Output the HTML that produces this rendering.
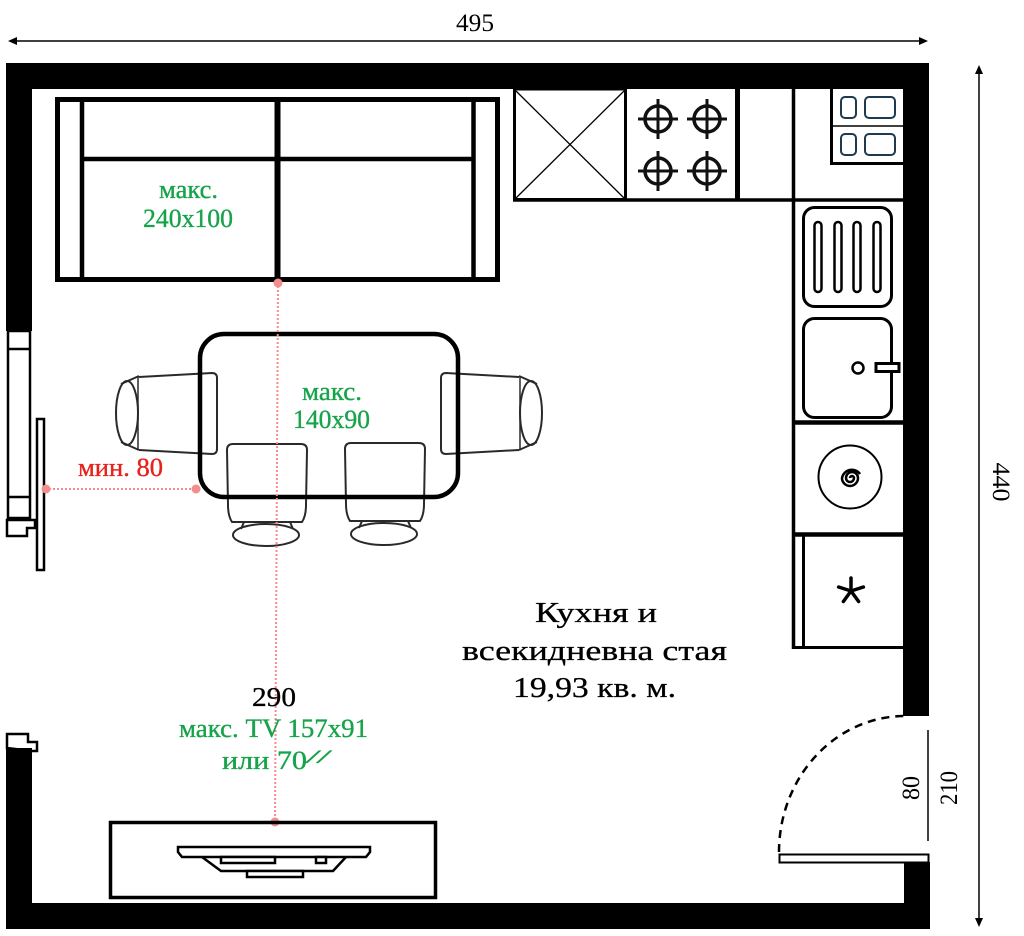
<!DOCTYPE html>
<html><head><meta charset="utf-8"><style>html,body{margin:0;padding:0;background:#fff}svg{display:block}</style></head>
<body>
<svg width="1024" height="936" viewBox="0 0 1024 936" xmlns="http://www.w3.org/2000/svg" font-family="'Liberation Serif', serif">
<rect width="1024" height="936" fill="#fff"/>

<!-- top dimension -->
<line x1="14" y1="41" x2="921" y2="41" stroke="#000" stroke-width="1.5"/>
<polygon points="8,41 17,37 17,45" fill="#000"/>
<polygon points="928,41 919,37 919,45" fill="#000"/>
<text x="456" y="31" font-size="25" textLength="38" lengthAdjust="spacingAndGlyphs" fill="#000">495</text>

<!-- right dimension -->
<line x1="979" y1="72" x2="979" y2="920" stroke="#000" stroke-width="1.5"/>
<polygon points="979,65 975,74 983,74" fill="#000"/>
<polygon points="979,927 975,918 983,918" fill="#000"/>
<text transform="translate(993,482) rotate(90)" text-anchor="middle" font-size="25" textLength="39" lengthAdjust="spacingAndGlyphs" fill="#000">440</text>

<!-- lower-left wall piece -->
<polygon points="7,748 7,734 28,734 28,742 37,742 37,751 32,751" fill="#fff" stroke="#000" stroke-width="2.5"/>

<!-- walls -->
<g fill="#000">
<rect x="6" y="63" width="923" height="26"/>
<rect x="6" y="63" width="26" height="268"/>
<rect x="6" y="748" width="26" height="181"/>
<rect x="6" y="903" width="923" height="26"/>
<rect x="903" y="63" width="26" height="653"/>
<rect x="904" y="862" width="26" height="67"/>
</g>

<!-- window -->
<g fill="#fff" stroke="#000" stroke-width="2.5">
<rect x="8" y="331" width="22" height="187"/>
<line x1="8" y1="349" x2="30" y2="349"/>
<line x1="8" y1="497" x2="30" y2="497"/>
<polygon points="7,520 35,520 35,528 27,528 27,536 7,536"/>
<rect x="37" y="419" width="7" height="151"/>
</g>

<!-- sofa -->
<g stroke="#000" fill="none">
<rect x="57.5" y="99.5" width="440" height="180" stroke-width="5"/>
<line x1="82" y1="99" x2="82" y2="280" stroke-width="4.5"/>
<line x1="473.5" y1="99" x2="473.5" y2="280" stroke-width="4.5"/>
<line x1="82" y1="159" x2="473.5" y2="159" stroke-width="4.5"/>
<line x1="277.5" y1="99" x2="277.5" y2="280" stroke-width="6"/>
</g>
<g fill="#17a34a" stroke="#17a34a" stroke-width="0.35">
<text x="159" y="198" font-size="26" textLength="59" lengthAdjust="spacingAndGlyphs">макс.</text>
<text x="143" y="227" font-size="26" textLength="90" lengthAdjust="spacingAndGlyphs">240x100</text>
</g>

<!-- top cabinets -->
<g stroke="#000" fill="none">
<rect x="514.5" y="89" width="111" height="110.5" stroke-width="3"/>
<line x1="516" y1="91" x2="624" y2="198" stroke-width="1.3"/>
<line x1="624" y1="91" x2="516" y2="198" stroke-width="1.3"/>
<line x1="737.5" y1="89" x2="737.5" y2="201" stroke-width="5"/>
<line x1="793.5" y1="89" x2="793.5" y2="649" stroke-width="3.5"/>
<line x1="513" y1="200" x2="903" y2="200" stroke-width="3.5"/>
<line x1="831.5" y1="89" x2="831.5" y2="164" stroke-width="3"/>
<line x1="830" y1="163.5" x2="903" y2="163.5" stroke-width="3"/>
<line x1="831" y1="126" x2="903" y2="126" stroke-width="1.5"/>
</g>
<g stroke="#1e3b4d" stroke-width="2" fill="none">
<rect x="841" y="97" width="15" height="21" rx="4"/>
<rect x="865" y="97" width="30" height="21" rx="4"/>
<rect x="841" y="134" width="15" height="21" rx="4"/>
<rect x="865" y="134" width="30" height="21" rx="4"/>
</g>
<!-- burners -->
<g stroke="#111" fill="none">
<g transform="translate(658,119)"><circle r="13" stroke-width="3.5"/><line x1="-20" y1="0" x2="20" y2="0" stroke-width="3"/><line x1="0" y1="-20" x2="0" y2="20" stroke-width="3"/></g>
<g transform="translate(707,119)"><circle r="13" stroke-width="3.5"/><line x1="-20" y1="0" x2="20" y2="0" stroke-width="3"/><line x1="0" y1="-20" x2="0" y2="20" stroke-width="3"/></g>
<g transform="translate(658,171)"><circle r="13" stroke-width="3.5"/><line x1="-20" y1="0" x2="20" y2="0" stroke-width="3"/><line x1="0" y1="-20" x2="0" y2="20" stroke-width="3"/></g>
<g transform="translate(707,171)"><circle r="13" stroke-width="3.5"/><line x1="-20" y1="0" x2="20" y2="0" stroke-width="3"/><line x1="0" y1="-20" x2="0" y2="20" stroke-width="3"/></g>
</g>

<!-- right column -->
<g stroke="#000" fill="none">
<line x1="793" y1="422.5" x2="903" y2="422.5" stroke-width="4.5"/>
<line x1="793" y1="534.5" x2="903" y2="534.5" stroke-width="4.5"/>
<line x1="792" y1="647.5" x2="903" y2="647.5" stroke-width="3"/>
<line x1="803.5" y1="536" x2="803.5" y2="646" stroke-width="3"/>
<rect x="803.5" y="207.5" width="88" height="99" rx="11" stroke-width="3"/>
<rect x="814.5" y="222" width="7" height="70" rx="3.5" stroke-width="2.5"/>
<rect x="834.5" y="222" width="7" height="70" rx="3.5" stroke-width="2.5"/>
<rect x="853.5" y="222" width="7" height="70" rx="3.5" stroke-width="2.5"/>
<rect x="873.5" y="222" width="7" height="70" rx="3.5" stroke-width="2.5"/>
<rect x="803.5" y="318.5" width="88" height="99" rx="11" stroke-width="3"/>
<circle cx="858" cy="368" r="5.5" stroke-width="2.5"/>
<rect x="876" y="363.5" width="23" height="8" fill="#fff" stroke-width="3"/>
<circle cx="850" cy="477" r="31.5" stroke-width="2"/>
<path d="M850,478 a2,2 0 0,1 4,0 a4,4 0 0,1 -8,0 a6,6 0 0,1 12,0 a8,8 0 0,1 -16,0 a10,10 0 0,1 18,-4" stroke-width="2.5"/>
<g stroke-width="3.5" stroke-linecap="round">
<line x1="851" y1="591" x2="851" y2="578"/>
<line x1="851" y1="591" x2="838.6" y2="587"/>
<line x1="851" y1="591" x2="863.4" y2="587"/>
<line x1="851" y1="591" x2="843.4" y2="601.5"/>
<line x1="851" y1="591" x2="858.6" y2="601.5"/>
</g>
</g>

<!-- door -->
<path d="M779,852 A126,136 0 0,1 905,716" fill="none" stroke="#000" stroke-width="2.5" stroke-dasharray="8 6"/>
<rect x="779.5" y="854.5" width="149" height="8" fill="#fff" stroke="#000" stroke-width="2"/>
<line x1="928" y1="730" x2="928" y2="841" stroke="#000" stroke-width="1.5"/>
<text transform="translate(919,788) rotate(-90)" text-anchor="middle" font-size="25" textLength="24" lengthAdjust="spacingAndGlyphs" fill="#000">80</text>
<text transform="translate(957,788) rotate(-90)" text-anchor="middle" font-size="25" textLength="34" lengthAdjust="spacingAndGlyphs" fill="#000">210</text>

<!-- chairs -->
<g stroke="#2a2a2a" stroke-width="2" fill="none">
<g>
<path d="M139,377 L212,373 Q217,373 217,378 L217,449 Q217,454 212,454 L139,450"/>
<ellipse cx="127" cy="413" rx="11" ry="32"/>
<path d="M121,384 L139,376 M121,442 L139,450"/>
<line x1="138" y1="377" x2="138" y2="450" stroke-width="1.5"/>
</g>
<g transform="translate(658,0) scale(-1,1)">
<path d="M139,377 L212,373 Q217,373 217,378 L217,449 Q217,454 212,454 L139,450"/>
<ellipse cx="127" cy="413" rx="11" ry="32"/>
<path d="M121,384 L139,376 M121,442 L139,450"/>
<line x1="138" y1="377" x2="138" y2="450" stroke-width="1.5"/>
</g>
<g>
<path d="M232,522 Q228,516 228,505 L227,450 Q227,444 233,444 L301,444 Q307,444 307,450 L306,505 Q306,516 302,522 Z"/>
<path d="M244,522 L241,529 M290,522 L293,529"/>
<ellipse cx="266" cy="535" rx="33" ry="11"/>
</g>
<g transform="translate(118,-1)">
<path d="M232,522 Q228,516 228,505 L227,450 Q227,444 233,444 L301,444 Q307,444 307,450 L306,505 Q306,516 302,522 Z"/>
<path d="M244,522 L241,529 M290,522 L293,529"/>
<ellipse cx="266" cy="535" rx="33" ry="11"/>
</g>
</g>

<!-- table -->
<rect x="200" y="334" width="258" height="163" rx="24" fill="none" stroke="#000" stroke-width="4.5"/>
<g fill="#17a34a" stroke="#17a34a" stroke-width="0.35">
<text x="302" y="400" font-size="26" textLength="60" lengthAdjust="spacingAndGlyphs">макс.</text>
<text x="293" y="428" font-size="26" textLength="77" lengthAdjust="spacingAndGlyphs">140x90</text>
</g>

<!-- pink guides -->
<g stroke="#f28e8e" stroke-width="2" stroke-dasharray="2 2" fill="none">
<line x1="278" y1="282" x2="275" y2="822"/>
<line x1="45" y1="489" x2="196" y2="489"/>
</g>
<g fill="#f28e8e">
<circle cx="278" cy="283" r="4.5"/>
<circle cx="275" cy="822" r="4.5"/>
<circle cx="46" cy="489" r="4.5"/>
<circle cx="196" cy="489" r="4.5"/>
</g>
<text x="78" y="476" font-size="26" textLength="85" lengthAdjust="spacingAndGlyphs" fill="#e8211c" stroke="#e8211c" stroke-width="0.35">мин. 80</text>

<!-- TV stand -->
<rect x="110.5" y="822.5" width="325" height="75" fill="none" stroke="#000" stroke-width="3.5"/>
<g stroke="#000" stroke-width="2.5" fill="#fff">
<path d="M202,857 L221,871 L333,871 L346,857"/>
<rect x="247" y="871" width="56" height="6"/>
<path d="M178,847 L370,847 L370,852 L366,857 L182,857 L178,852 Z"/>
<rect x="221" y="857" width="54" height="6"/>
<rect x="316" y="857" width="10" height="6"/>
</g>

<!-- labels -->
<text x="252" y="706" font-size="27" textLength="44" lengthAdjust="spacingAndGlyphs" fill="#000" stroke="#000" stroke-width="0.3">290</text>
<g fill="#17a34a" stroke="#17a34a" stroke-width="0.35">
<text x="179" y="737" font-size="26" textLength="189" lengthAdjust="spacingAndGlyphs">макс. TV 157x91</text>
<text x="222" y="769" font-size="26" textLength="85" lengthAdjust="spacingAndGlyphs">или 70</text>
<text x="307" y="763" font-size="19" textLength="22" lengthAdjust="spacingAndGlyphs" font-style="italic">//</text>
</g>

<g fill="#000" stroke="#000" stroke-width="0.3">
<text x="535" y="622" font-size="29" textLength="122" lengthAdjust="spacingAndGlyphs">Кухня и</text>
<text x="462" y="660" font-size="29" textLength="265" lengthAdjust="spacingAndGlyphs">всекидневна стая</text>
<text x="513" y="697" font-size="29" textLength="163" lengthAdjust="spacingAndGlyphs">19,93 кв. м.</text>
</g>
</svg>
</body></html>
